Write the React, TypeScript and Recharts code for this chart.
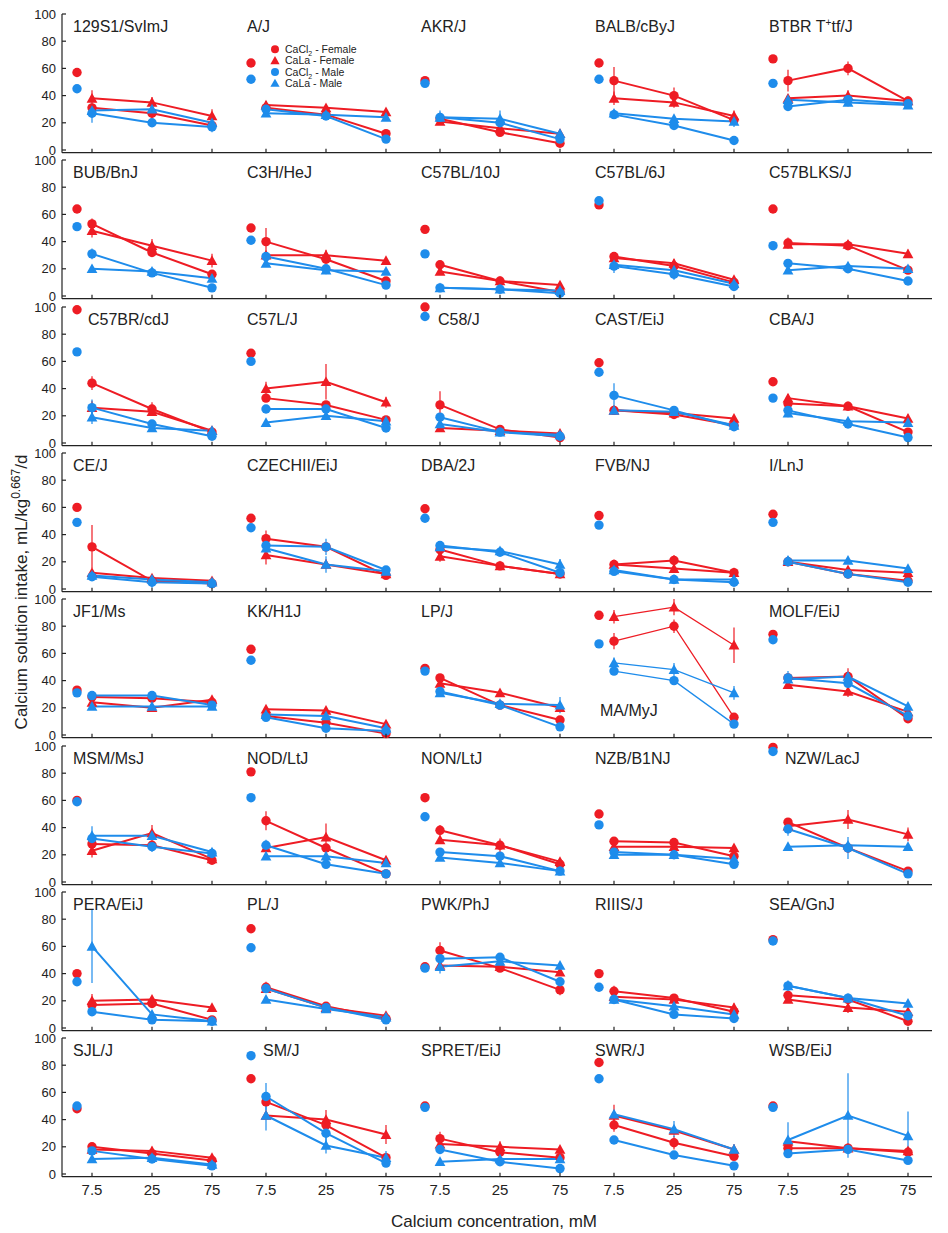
import React from "react";
import { LineChart, Line, XAxis, YAxis, ErrorBar } from "recharts";

// strains, row by row (5 per row)
const strains = [
  "129S1/SvImJ", "A/J", "AKR/J", "BALB/cByJ", "BTBR T+tf/J",
  "BUB/BnJ", "C3H/HeJ", "C57BL/10J", "C57BL/6J", "C57BLKS/J",
  "C57BR/cdJ", "C57L/J", "C58/J", "CAST/EiJ", "CBA/J",
  "CE/J", "CZECHII/EiJ", "DBA/2J", "FVB/NJ", "I/LnJ",
  "JF1/Ms", "KK/H1J", "LP/J", "MA/MyJ", "MOLF/EiJ",
  "MSM/MsJ", "NOD/LtJ", "NON/LtJ", "NZB/B1NJ", "NZW/LacJ",
  "PERA/EiJ", "PL/J", "PWK/PhJ", "RIIIS/J", "SEA/GnJ",
  "SJL/J", "SM/J", "SPRET/EiJ", "SWR/J", "WSB/EiJ",
];

// water intake (unlabelled first point)
const waterF = [57, 64, 51, 64, 67, 64, 50, 49, 67, 64, 98, 66, 100, 59, 45, 60, 52, 59, 54, 55,
  33, 63, 49, 88, 74, 60, 81, 62, 50, 99, 40, 73, 45, 40, 65, 48, 70, 50, 82, 50];
const waterM = [45, 52, 49, 52, 49, 51, 41, 31, 70, 37, 67, 60, 93, 52, 33, 49, 45, 52, 47, 49,
  31, 55, 47, 67, 70, 59, 62, 48, 42, 96, 34, 59, 44, 30, 64, 50, 87, 49, 70, 49];

// 7.5, 25, 75 mM
const caCl2F = [
  [31, 27, 18], [31, 26, 12], [23, 13, 5], [51, 40, 22], [51, 60, 36],
  [53, 32, 16], [40, 27, 11], [23, 11, 3], [29, 22, 10], [39, 37, 19],
  [44, 25, 8], [33, 28, 17], [28, 10, 4], [24, 21, 13], [29, 27, 8],
  [31, 6, 4], [37, 31, 10], [29, 17, 11], [18, 21, 12], [20, 11, 6],
  [28, 27, 24], [14, 9, 1], [42, 22, 11], [69, 80, 13], [42, 43, 12],
  [28, 27, 16], [45, 25, 6], [38, 27, 13], [30, 29, 19], [44, 25, 8],
  [17, 18, 6], [30, 16, 7], [57, 44, 28], [27, 22, 12], [24, 21, 5],
  [20, 15, 10], [53, 36, 12], [26, 16, 12], [36, 23, 13], [19, 19, 16],
];
const caLaF = [
  [38, 35, 25], [33, 31, 28], [21, 16, 12], [38, 35, 25], [38, 40, 36],
  [48, 37, 26], [30, 30, 26], [18, 11, 8], [28, 24, 12], [38, 38, 31],
  [26, 23, 9], [40, 45, 30], [11, 9, 7], [24, 22, 18], [33, 27, 18],
  [12, 8, 6], [25, 18, 11], [24, 17, 11], [18, 15, 12], [20, 14, 12],
  [24, 20, 26], [19, 18, 8], [38, 31, 20], [87, 94, 66], [37, 32, 17],
  [23, 36, 17], [25, 33, 16], [31, 27, 15], [26, 26, 25], [41, 46, 35],
  [20, 21, 15], [29, 15, 9], [46, 45, 41], [23, 21, 15], [21, 15, 12],
  [18, 17, 12], [43, 40, 29], [22, 20, 18], [43, 32, 18], [24, 19, 17],
];
const caCl2M = [
  [27, 20, 17], [30, 25, 8], [24, 20, 8], [26, 18, 7], [32, 37, 34],
  [31, 17, 6], [29, 20, 8], [6, 5, 2], [22, 16, 7], [24, 20, 11],
  [26, 14, 5], [25, 25, 11], [19, 8, 5], [35, 24, 12], [24, 14, 4],
  [9, 5, 4], [32, 31, 14], [32, 27, 12], [13, 7, 5], [20, 11, 5],
  [29, 29, 22], [13, 5, 3], [32, 22, 6], [47, 40, 8], [42, 38, 14],
  [32, 26, 21], [27, 13, 6], [22, 19, 8], [22, 20, 13], [39, 25, 6],
  [12, 6, 5], [29, 15, 6], [51, 52, 34], [21, 10, 7], [31, 22, 9],
  [17, 11, 6], [57, 30, 8], [18, 9, 4], [25, 14, 6], [15, 18, 10],
];
const caLaM = [
  [29, 30, 20], [27, 26, 24], [24, 23, 12], [27, 23, 21], [37, 35, 33],
  [20, 18, 13], [24, 19, 18], [6, 5, 4], [23, 19, 9], [19, 22, 20],
  [19, 11, 9], [15, 20, 16], [14, 8, 6], [24, 23, 13], [22, 16, 15],
  [10, 7, 5], [30, 18, 13], [31, 28, 18], [14, 7, 7], [21, 21, 15],
  [21, 21, 21], [15, 14, 5], [31, 23, 22], [53, 48, 31], [41, 43, 21],
  [34, 34, 22], [19, 19, 14], [18, 14, 8], [20, 20, 17], [26, 27, 26],
  [60, 10, 5], [21, 14, 8], [45, 49, 46], [21, 16, 10], [31, 22, 18],
  [11, 12, 7], [43, 21, 12], [9, 11, 11], [44, 33, 18], [25, 43, 28],
];

// visible error bars: strain, series, concentration index, +/- value
const errorBars: [string, string, number, number][] = [
  ["129S1/SvImJ", "laF", 0, 6], ["129S1/SvImJ", "clM", 0, 7], ["129S1/SvImJ", "laF", 1, 4],
  ["129S1/SvImJ", "laF", 2, 5], ["129S1/SvImJ", "clM", 2, 4], ["129S1/SvImJ", "clF", 1, 4],
  ["A/J", "laF", 0, 3],
  ["AKR/J", "clM", 0, 5], ["AKR/J", "laM", 1, 6], ["AKR/J", "laM", 2, 3],
  ["BALB/cByJ", "clF", 0, 10], ["BALB/cByJ", "clF", 1, 6], ["BALB/cByJ", "laF", 0, 5],
  ["BALB/cByJ", "laF", 1, 4], ["BALB/cByJ", "laF", 2, 4], ["BALB/cByJ", "laM", 2, 4],
  ["BTBR T+tf/J", "clF", 0, 8], ["BTBR T+tf/J", "clF", 1, 5], ["BTBR T+tf/J", "laF", 1, 4], ["BTBR T+tf/J", "laM", 1, 3],
  ["BUB/BnJ", "laF", 0, 5], ["BUB/BnJ", "clF", 0, 4], ["BUB/BnJ", "laF", 1, 5], ["BUB/BnJ", "laF", 2, 5],
  ["BUB/BnJ", "clM", 0, 4], ["BUB/BnJ", "clM", 1, 3],
  ["C3H/HeJ", "clF", 0, 10], ["C3H/HeJ", "laF", 1, 4], ["C3H/HeJ", "laM", 1, 3],
  ["C57BL/6J", "clM", 0, 5], ["C57BL/6J", "clM", 1, 4], ["C57BL/6J", "laF", 1, 3],
  ["C57BLKS/J", "clF", 0, 4], ["C57BLKS/J", "laF", 1, 3], ["C57BLKS/J", "laF", 2, 3],
  ["C57BR/cdJ", "clF", 0, 5], ["C57BR/cdJ", "clF", 1, 5], ["C57BR/cdJ", "clM", 0, 6],
  ["C57BR/cdJ", "laM", 0, 5], ["C57BR/cdJ", "laF", 0, 5],
  ["C57L/J", "laF", 0, 5], ["C57L/J", "laF", 1, 13], ["C57L/J", "laF", 2, 4],
  ["C58/J", "clF", 0, 10], ["C58/J", "laM", 0, 5],
  ["CAST/EiJ", "clM", 0, 9], ["CAST/EiJ", "clM", 1, 3],
  ["CBA/J", "laF", 0, 3], ["CBA/J", "laF", 2, 3], ["CBA/J", "laM", 0, 3],
  ["CE/J", "clF", 0, 16], ["CE/J", "clM", 1, 4],
  ["CZECHII/EiJ", "clF", 0, 6], ["CZECHII/EiJ", "laF", 0, 7], ["CZECHII/EiJ", "clM", 1, 6], ["CZECHII/EiJ", "laM", 1, 6],
  ["DBA/2J", "laF", 0, 4], ["DBA/2J", "laM", 2, 4],
  ["FVB/NJ", "clF", 1, 4],
  ["I/LnJ", "laM", 0, 3],
  ["LP/J", "laM", 2, 6], ["LP/J", "clM", 0, 4],
  ["MA/MyJ", "laF", 0, 5], ["MA/MyJ", "laF", 1, 6], ["MA/MyJ", "laF", 2, 13], ["MA/MyJ", "clF", 0, 6],
  ["MA/MyJ", "clF", 1, 5], ["MA/MyJ", "laM", 0, 4], ["MA/MyJ", "laM", 1, 5], ["MA/MyJ", "laM", 2, 5],
  ["MOLF/EiJ", "clF", 1, 6], ["MOLF/EiJ", "clM", 0, 5], ["MOLF/EiJ", "laF", 1, 4],
  ["MSM/MsJ", "laF", 0, 5], ["MSM/MsJ", "laF", 1, 6], ["MSM/MsJ", "clM", 0, 9], ["MSM/MsJ", "clM", 1, 4], ["MSM/MsJ", "clM", 2, 3],
  ["NOD/LtJ", "clF", 0, 7], ["NOD/LtJ", "laF", 1, 10], ["NOD/LtJ", "clM", 0, 4],
  ["NON/LtJ", "clF", 0, 4], ["NON/LtJ", "clF", 1, 5],
  ["NZW/LacJ", "laF", 1, 7], ["NZW/LacJ", "laF", 2, 5], ["NZW/LacJ", "clM", 0, 5], ["NZW/LacJ", "clM", 1, 8],
  ["PERA/EiJ", "laM", 0, 27], ["PERA/EiJ", "laF", 0, 5],
  ["PL/J", "clF", 0, 4],
  ["PWK/PhJ", "clF", 0, 6], ["PWK/PhJ", "laM", 0, 5], ["PWK/PhJ", "clF", 2, 4],
  ["RIIIS/J", "clF", 0, 4], ["RIIIS/J", "laF", 2, 3],
  ["SEA/GnJ", "clM", 0, 4], ["SEA/GnJ", "laF", 1, 4],
  ["SJL/J", "laF", 1, 3],
  ["SM/J", "clM", 0, 10], ["SM/J", "clM", 1, 8], ["SM/J", "laF", 1, 7], ["SM/J", "laF", 2, 7],
  ["SM/J", "laM", 0, 11], ["SM/J", "laM", 1, 6], ["SM/J", "laM", 2, 5],
  ["SPRET/EiJ", "clF", 0, 5], ["SPRET/EiJ", "laF", 1, 4],
  ["SWR/J", "laF", 0, 8], ["SWR/J", "laM", 1, 6], ["SWR/J", "clF", 0, 5], ["SWR/J", "clF", 1, 5], ["SWR/J", "laM", 2, 4],
  ["WSB/EiJ", "laM", 0, 13], ["WSB/EiJ", "laM", 1, 31], ["WSB/EiJ", "laM", 2, 18],
];

const concLabels = ["7.5", "25", "75"];
const yTicks = [0, 20, 40, 60, 80, 100];

const RED = "#ee1c24";
const BLUE = "#1e8ceb";
const INK = "#222";
const FONT = "'Liberation Sans', Arial, Helvetica, sans-serif";

// layout
const LEFT = 62;
const COLW = 174;
const TOP = 14;
const ROWH = 146.3;
const UNIT = 1.36;
const YMIN = -2;
const PH = (100 - YMIN) * UNIT;
const MT = 10;
const YW = 45;
const XH = 34;
const XH_INNER = 10;
const XPOS = [1, 2, 3];
const WATER_X = 0.75;

const series = [
  { key: "laF", vals: caLaF, color: RED, shape: "tri" },
  { key: "clF", vals: caCl2F, color: RED, shape: "circle" },
  { key: "laM", vals: caLaM, color: BLUE, shape: "tri" },
  { key: "clM", vals: caCl2M, color: BLUE, shape: "circle" },
];

// label offsets where the water dots sit in the corner
const labelShift: Record<string, number> = { "C57BR/cdJ": 26, "C58/J": 28, "NZW/LacJ": 27, "SM/J": 27 };

const makeDot = (color: string, shape: string) => (p: any) => {
  const k = "d" + p.index;
  if (p.cx == null || p.cy == null || p.value == null) return <g key={k} />;
  if (shape === "tri") {
    const s = 5.4;
    return (
      <path key={k} d={`M${p.cx},${p.cy - s}L${p.cx + s},${p.cy + s * 0.8}L${p.cx - s},${p.cy + s * 0.8}Z`} fill={color} />
    );
  }
  return <circle key={k} cx={p.cx} cy={p.cy} r={4.7} fill={color} />;
};

const buildRows = (i: number) => {
  const rows: any[] = [{ x: WATER_X, wF: waterF[i], wM: waterM[i] }];
  XPOS.forEach((x, j) => {
    const row: any = { x };
    series.forEach((s) => {
      row[s.key] = s.vals[i][j];
      row["e_" + s.key] = 0;
    });
    rows.push(row);
  });
  errorBars
    .filter((e) => e[0] === strains[i])
    .forEach(([, k, j, v]) => {
      rows[j + 1]["e_" + k] = v;
    });
  return rows;
};

const yTick = (p: any, show: boolean) => (
  <g>
    <line x1={p.x} x2={p.x + 4} y1={p.y} y2={p.y} stroke={INK} strokeWidth={1.2} />
    {show && (
      <text x={p.x - 6} y={p.y} dy="0.35em" textAnchor="end" fontSize={13} fontFamily={FONT} fill={INK}>
        {p.payload.value}
      </text>
    )}
  </g>
);

const xTick = (p: any, show: boolean) => (
  <g>
    <line x1={p.x} x2={p.x} y1={p.y} y2={p.y - 4} stroke={INK} strokeWidth={1.2} />
    {show && (
      <text x={p.x} y={p.y + 18} textAnchor="middle" fontSize={15} fontFamily={FONT} fill={INK}>
        {concLabels[XPOS.indexOf(p.payload.value)]}
      </text>
    )}
  </g>
);

const Panel = ({ i }: { i: number }) => {
  const r = Math.floor(i / 5);
  const c = i % 5;
  const first = c === 0;
  const last = r === 7;
  const xh = last ? XH : XH_INNER;
  const w = COLW + (first ? YW : 0);
  const h = MT + PH + xh;
  const data = buildRows(i);
  return (
    <div style={{ position: "absolute", left: LEFT + c * COLW - (first ? YW : 0), top: TOP + r * ROWH - MT }}>
      <LineChart width={w} height={h} data={data} margin={{ top: MT, right: 0, bottom: 0, left: 0 }}>
        <XAxis
          type="number"
          dataKey="x"
          domain={[0.5, 3.4]}
          ticks={XPOS}
          interval={0}
          height={xh}
          axisLine={{ stroke: INK, strokeWidth: 1.2 }}
          tickLine={false}
          tickSize={0}
          tickMargin={0}
          tick={(p: any) => xTick(p, last)}
        />
        <YAxis
          type="number"
          domain={[YMIN, 100]}
          ticks={yTicks}
          interval={0}
          width={first ? YW : 0}
          axisLine={{ stroke: INK, strokeWidth: 1.2 }}
          tickLine={false}
          tickSize={0}
          tickMargin={0}
          tick={(p: any) => yTick(p, first)}
        />
        <Line dataKey="wF" stroke="none" dot={makeDot(RED, "circle")} activeDot={false} isAnimationActive={false} />
        <Line dataKey="wM" stroke="none" dot={makeDot(BLUE, "circle")} activeDot={false} isAnimationActive={false} />
        {series.map((s) => (
          <Line
            key={s.key}
            dataKey={s.key}
            stroke={s.color}
            strokeWidth={i === 23 ? 1.3 : 2}
            dot={makeDot(s.color, s.shape)}
            activeDot={false}
            isAnimationActive={false}
          >
            <ErrorBar dataKey={"e_" + s.key} direction="y" width={0} stroke={s.color} strokeWidth={1.2} />
          </Line>
        ))}
      </LineChart>
    </div>
  );
};

const StrainLabel = ({ i }: { i: number }) => {
  const r = Math.floor(i / 5);
  const c = i % 5;
  const name = strains[i];
  let x = LEFT + c * COLW + (labelShift[name] ?? 11);
  let y = TOP + r * ROWH + 18;
  if (name === "MA/MyJ") {
    x = LEFT + c * COLW + 16;
    y = TOP + r * ROWH + (100 - 18) * UNIT + 5;
  }
  const parts = name.split("+");
  return (
    <text x={x} y={y} fontSize={16} fontFamily={FONT} fill={INK}>
      {parts.length > 1 ? (
        <>
          {parts[0]}
          <tspan fontSize={10} dy={-6}>+</tspan>
          <tspan dy={6}>{parts[1]}</tspan>
        </>
      ) : (
        name
      )}
    </text>
  );
};

const legendItems = [
  { sub: true, name: "CaCl", rest: " - Female", color: RED, shape: "circle" },
  { sub: false, name: "CaLa", rest: " - Female", color: RED, shape: "tri" },
  { sub: true, name: "CaCl", rest: " - Male", color: BLUE, shape: "circle" },
  { sub: false, name: "CaLa", rest: " - Male", color: BLUE, shape: "tri" },
];

const Legend = () => {
  const lx = LEFT + COLW + 39;
  const ly = 49.3;
  return (
    <g>
      {legendItems.map((it, k) => {
        const y = ly + k * 11.3;
        return (
          <g key={k}>
            {it.shape === "circle" ? (
              <circle cx={lx} cy={y} r={4} fill={it.color} />
            ) : (
              <path d={`M${lx},${y - 4.5}L${lx + 4.6},${y + 3.6}L${lx - 4.6},${y + 3.6}Z`} fill={it.color} />
            )}
            <text x={lx + 10} y={y + 3.8} fontSize={10.5} fontFamily={FONT} fill={INK}>
              {it.name}
              {it.sub ? (
                <>
                  <tspan fontSize={7} dy={3}>2</tspan>
                  <tspan dy={-3}>{it.rest}</tspan>
                </>
              ) : (
                it.rest
              )}
            </text>
          </g>
        );
      })}
    </g>
  );
};

export default function App() {
  return (
    <div style={{ position: "absolute", left: 0, top: 0, width: 948, height: 1233, background: "#fff" }}>
      {strains.map((_, i) => (
        <Panel key={i} i={i} />
      ))}
      <svg width={948} height={1233} style={{ position: "absolute", left: 0, top: 0, pointerEvents: "none" }}>
        {strains.map((_, i) => (
          <StrainLabel key={i} i={i} />
        ))}
        <Legend />
        <text
          transform="translate(27,592) rotate(-90)"
          textAnchor="middle"
          fontSize={17}
          fontFamily={FONT}
          fill={INK}
        >
          Calcium solution intake, mL/kg
          <tspan fontSize={12} dy={-7}>0.667</tspan>
          <tspan dy={7}>/d</tspan>
        </text>
        <text x={494} y={1227} textAnchor="middle" fontSize={17} fontFamily={FONT} fill={INK}>
          Calcium concentration, mM
        </text>
      </svg>
    </div>
  );
}
